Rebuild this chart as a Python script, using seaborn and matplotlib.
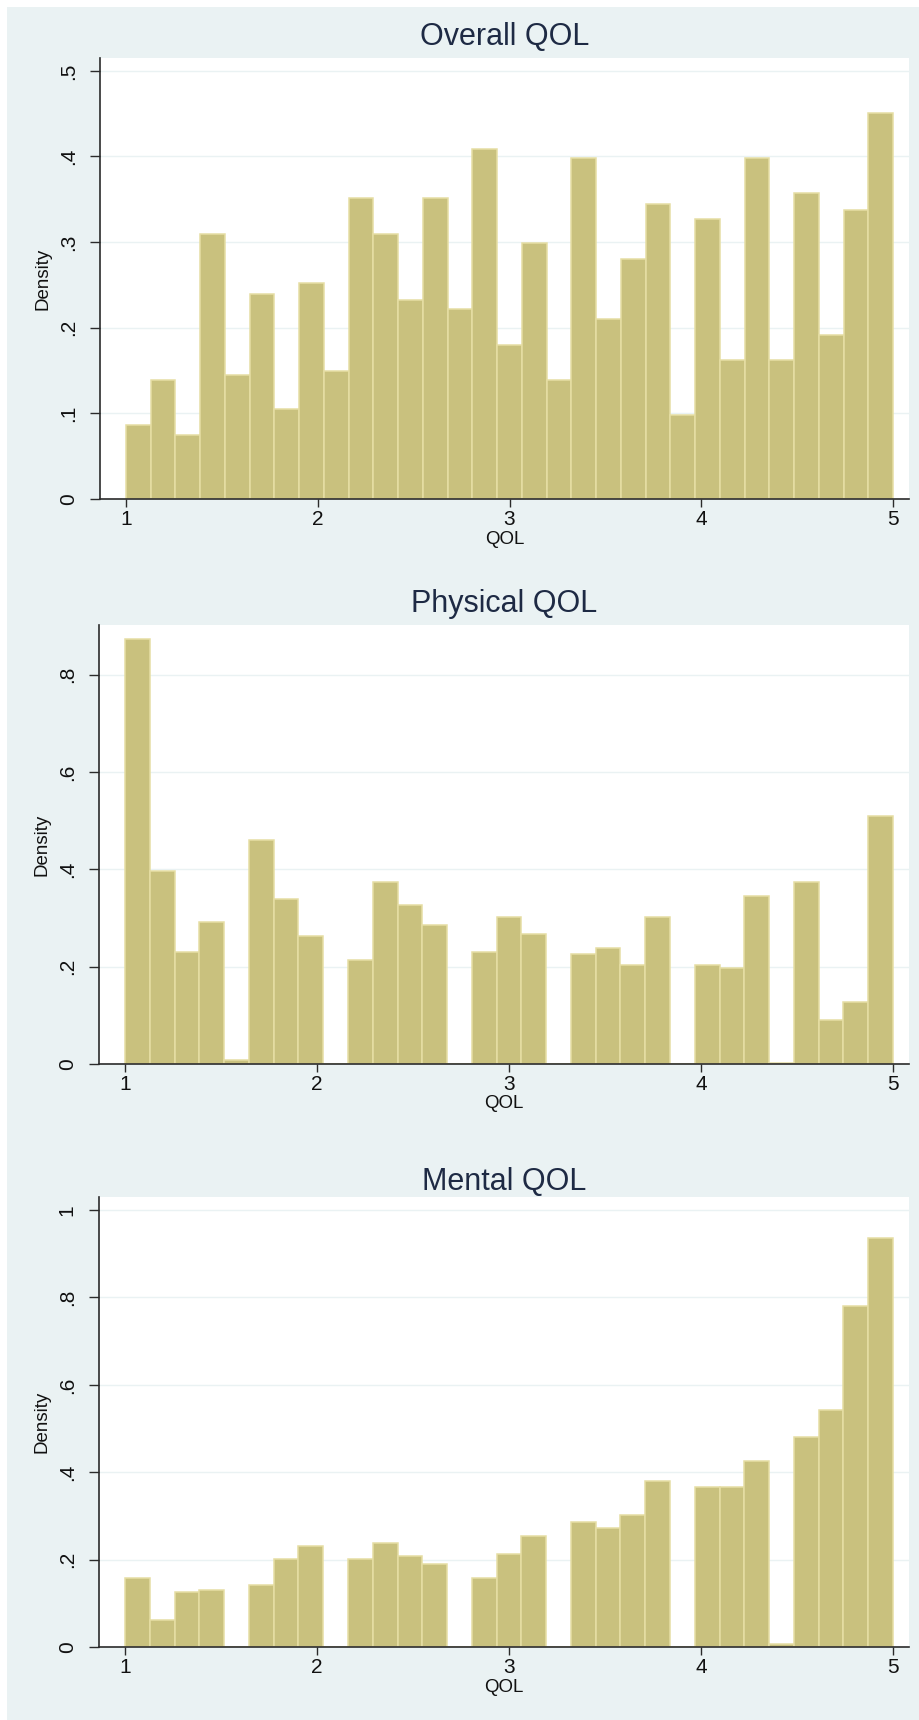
import numpy as np
import pandas as pd
import matplotlib
matplotlib.use("Agg")
import matplotlib.pyplot as plt
from matplotlib.ticker import FuncFormatter
import seaborn as sns

# Histogram densities (31 equal-width bins between QOL = 1 and 5)
overall_density = [0.087, 0.139, 0.075, 0.309, 0.145, 0.239, 0.105, 0.252, 0.150, 0.351,
                   0.310, 0.232, 0.351, 0.222, 0.409, 0.180, 0.299, 0.139, 0.398, 0.210,
                   0.280, 0.345, 0.098, 0.327, 0.162, 0.398, 0.162, 0.357, 0.192, 0.338,
                   0.451]
physical_density = [0.874, 0.397, 0.231, 0.292, 0.008, 0.460, 0.338, 0.262, 0.0, 0.213,
                    0.374, 0.327, 0.285, 0.0, 0.231, 0.303, 0.268, 0.0, 0.226, 0.239,
                    0.203, 0.303, 0.0, 0.203, 0.198, 0.346, 0.003, 0.374, 0.091, 0.127,
                    0.510]
mental_density = [0.159, 0.062, 0.125, 0.131, 0.0, 0.142, 0.202, 0.231, 0.0, 0.202,
                  0.237, 0.209, 0.191, 0.0, 0.157, 0.214, 0.254, 0.0, 0.285, 0.272,
                  0.302, 0.380, 0.0, 0.367, 0.367, 0.426, 0.008, 0.480, 0.543, 0.780,
                  0.937]

panel_titles = ["Overall QOL", "Physical QOL", "Mental QOL"]
x_ticks = [1, 2, 3, 4, 5]
y_ticks = [[0, 0.1, 0.2, 0.3, 0.4, 0.5],
           [0, 0.2, 0.4, 0.6, 0.8],
           [0, 0.2, 0.4, 0.6, 0.8, 1.0]]
y_limits = [0.515, 0.902, 1.03]

n_bins = 31
qol_min, qol_max = 1.0, 5.0
bin_width = (qol_max - qol_min) / n_bins
bin_centers = qol_min + bin_width * (np.arange(n_bins) + 0.5)

BG = "#EAF2F3"
BAR = "#C9C17E"
BAR_EDGE = "#E6DEA4"
AXIS = "#2B2B2B"
TITLE = "#1E2A44"

sns.set_theme(style="white")
plt.rcParams["font.family"] = ["Liberation Sans", "DejaVu Sans"]

W, H = 920, 1720
fig = plt.figure(figsize=(W / 100, H / 100), dpi=100)
fig.patch.set_facecolor(BG)

# thin white margin along the top and left edges
fig.add_artist(plt.Rectangle((0, 0), 7 / W, 1, transform=fig.transFigure,
                             facecolor="white", edgecolor="none", zorder=-1))
fig.add_artist(plt.Rectangle((0, 1 - 7 / H), 1, 7 / H, transform=fig.transFigure,
                             facecolor="white", edgecolor="none", zorder=-1))

# plot-region boxes in pixels: (left, right, top, bottom), plus title offset above top
boxes = [(100, 909, 58, 499, 21),
         (99, 909, 625, 1064, 21),
         (99, 909, 1197, 1647, 15)]

x_left = 1 - 26 / 191.75
x_right = 5 + 16 / 191.75


def fmt_density(v, _pos):
    if abs(v) < 1e-9:
        return "0"
    if abs(v - 1) < 1e-9:
        return "1"
    return f"{v:.1f}".lstrip("0")


for density, title, yt, ytop, (l, r, t, b, toff) in zip(
        [overall_density, physical_density, mental_density],
        panel_titles, y_ticks, y_limits, boxes):
    ax = fig.add_axes([l / W, 1 - b / H, (r - l) / W, (b - t) / H])
    ax.set_facecolor("white")
    df = pd.DataFrame({"QOL": bin_centers, "Density": density})
    sns.histplot(data=df, x="QOL", weights="Density", bins=n_bins,
                 binrange=(qol_min, qol_max), stat="count",
                 color=BAR, edgecolor=BAR_EDGE, linewidth=1.1, alpha=1.0, ax=ax)

    ax.set_xlim(x_left, x_right)
    ax.set_ylim(0, ytop)
    ax.set_xticks(x_ticks)
    ax.set_yticks(yt)
    ax.yaxis.set_major_formatter(FuncFormatter(fmt_density))

    ax.grid(axis="y", color=BG, linewidth=1.0)
    ax.grid(axis="x", visible=False)
    ax.set_axisbelow(True)

    for side in ["top", "right"]:
        ax.spines[side].set_visible(False)
    for side in ["left", "bottom"]:
        ax.spines[side].set_color(AXIS)
        ax.spines[side].set_linewidth(1.2)

    ax.tick_params(axis="x", direction="out", length=6, width=1.0, color=AXIS,
                   labelsize=15, labelcolor="#111111", pad=2, bottom=True)
    ax.tick_params(axis="y", direction="out", length=7, width=1.0, color=AXIS,
                   labelsize=15, labelcolor="#111111", pad=9, left=True)
    for lab in ax.get_yticklabels():
        lab.set_rotation(90)
        lab.set_va("center")

    ax.set_xlabel("QOL", fontsize=13.5, color="#111111", labelpad=1)
    ax.set_ylabel("Density", fontsize=13.5, color="#111111", labelpad=5)

    fig.text(((l + r) / 2) / W, 1 - (t - toff) / H, title, ha="center", va="center",
             fontsize=22, color=TITLE)

fig.savefig("out.png", dpi=100, facecolor=fig.get_facecolor())
